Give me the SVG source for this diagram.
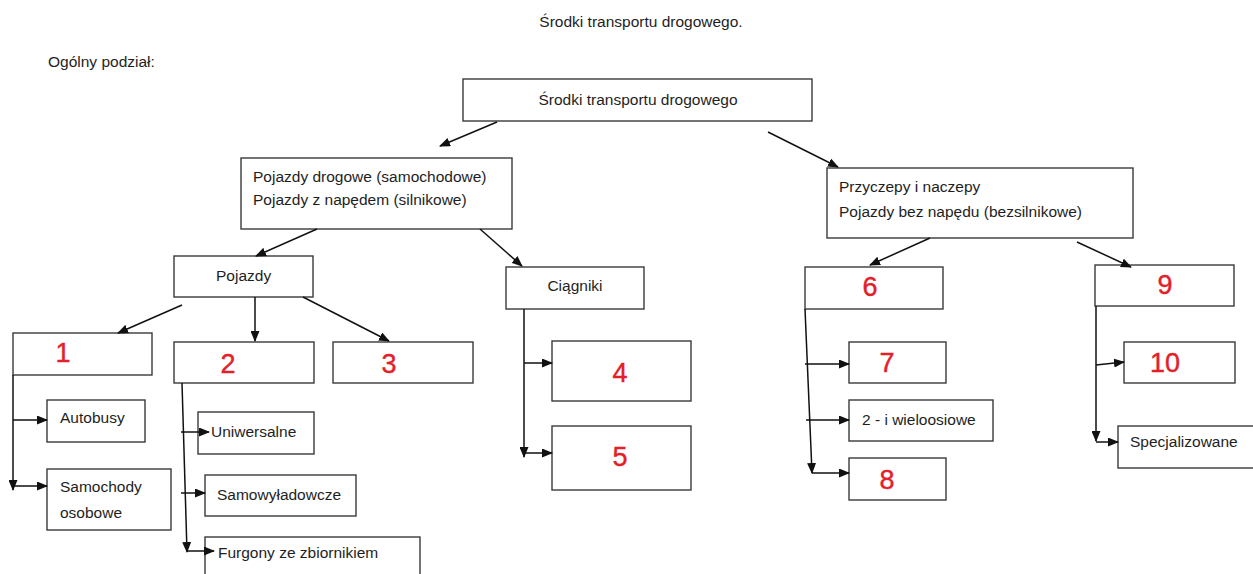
<svg xmlns="http://www.w3.org/2000/svg" width="1253" height="574" viewBox="0 0 1253 574">
<style>
  .box { fill: #fff; stroke: #3a3a3a; stroke-width: 1.4; }
  .t { font-family: "Liberation Sans", Arial, sans-serif; font-size: 15.5px; fill: #1e1e1e; }
  .tc { text-anchor: middle; }
  .d { font-family: "Liberation Sans", Arial, sans-serif; font-size: 27px; fill: #e3202a; stroke: #e3202a; stroke-width: 0.4; text-anchor: middle; dominant-baseline: central; }
  .c line { stroke: #111; stroke-width: 1.5; fill: none; marker-end: url(#ah); }
</style>
<defs>
  <marker id="ah" markerUnits="userSpaceOnUse" markerWidth="11" markerHeight="9" refX="10" refY="4.5" orient="auto">
    <path d="M0,0 L11,4.5 L0,9 Z" fill="#111"/>
  </marker>
</defs>
<rect width="1253" height="574" fill="#fff"/>

<text class="t tc" x="641" y="27">Środki transportu drogowego.</text>
<text class="t" x="48" y="67">Ogólny podział:</text>

<g id="root"><rect class="box" x="463" y="79" width="349" height="42"/><text class="t tc" x="638" y="105">Środki transportu drogowego</text></g>
<g id="pd"><rect class="box" x="241" y="158" width="271" height="71"/><text class="t" x="253" y="182">Pojazdy drogowe (samochodowe)</text><text class="t" x="253" y="205">Pojazdy z napędem (silnikowe)</text></g>
<g id="prz"><rect class="box" x="827" y="168" width="306" height="70"/><text class="t" x="839" y="192">Przyczepy i naczepy</text><text class="t" x="839" y="217">Pojazdy bez napędu (bezsilnikowe)</text></g>
<g id="pojazdy"><rect class="box" x="174" y="256" width="139" height="41"/><text class="t" x="216" y="281">Pojazdy</text></g>
<g id="ciagniki"><rect class="box" x="506" y="267" width="138" height="42"/><text class="t tc" x="575" y="291">Ciągniki</text></g>
<g id="n1"><rect class="box" x="13" y="333" width="139" height="42"/><text class="d" x="63" y="353">1</text></g>
<g id="n2"><rect class="box" x="174" y="342" width="140" height="41"/><text class="d" x="228" y="364">2</text></g>
<g id="n3"><rect class="box" x="333" y="342" width="140" height="41"/><text class="d" x="389" y="364">3</text></g>
<g id="autobusy"><rect class="box" x="47" y="400" width="98" height="42"/><text class="t" x="60" y="423">Autobusy</text></g>
<g id="samochody"><rect class="box" x="47" y="469" width="124" height="61"/><text class="t" x="60" y="492">Samochody</text><text class="t" x="60" y="518">osobowe</text></g>
<g id="uniwersalne"><rect class="box" x="198" y="412" width="116" height="42"/><text class="t" x="211" y="437">Uniwersalne</text></g>
<g id="samowyladowcze"><rect class="box" x="205" y="475" width="151" height="41"/><text class="t" x="217" y="500">Samowyładowcze</text></g>
<g id="furgony"><rect class="box" x="205" y="537" width="215" height="50"/><text class="t" x="218" y="558">Furgony ze zbiornikiem</text></g>
<g id="n4"><rect class="box" x="552" y="341" width="139" height="60"/><text class="d" x="620" y="373">4</text></g>
<g id="n5"><rect class="box" x="552" y="426" width="139" height="64"/><text class="d" x="620" y="457">5</text></g>
<g id="n6"><rect class="box" x="805" y="267" width="138" height="42"/><text class="d" x="870" y="287">6</text></g>
<g id="n9"><rect class="box" x="1095" y="265" width="139" height="41"/><text class="d" x="1165" y="285">9</text></g>
<g id="n7"><rect class="box" x="849" y="342" width="97" height="41"/><text class="d" x="887" y="363">7</text></g>
<g id="wieloosiowe"><rect class="box" x="849" y="400" width="144" height="41"/><text class="t" x="862" y="425">2 - i wieloosiowe</text></g>
<g id="n8"><rect class="box" x="849" y="458" width="97" height="42"/><text class="d" x="887" y="480">8</text></g>
<g id="n10"><rect class="box" x="1124" y="342" width="111" height="41"/><text class="d" x="1165" y="363">10</text></g>
<g id="specjalizowane"><rect class="box" x="1118" y="426" width="140" height="42"/><text class="t" x="1130" y="447">Specjalizowane</text></g>

<g id="connectors" class="c">
  <line x1="497" y1="122" x2="440" y2="146"/>
  <line x1="768" y1="132" x2="838" y2="167"/>
  <line x1="317" y1="229" x2="256" y2="256"/>
  <line x1="480" y1="229" x2="522" y2="266"/>
  <line x1="182" y1="305" x2="118" y2="333"/>
  <line x1="255" y1="297" x2="255" y2="341"/>
  <line x1="303" y1="297" x2="389" y2="341"/>
  <line x1="13" y1="375" x2="13" y2="490"/>
  <line x1="13" y1="420" x2="47" y2="420"/>
  <line x1="13" y1="486" x2="47" y2="486"/>
  <line x1="182" y1="383" x2="187" y2="552"/>
  <line x1="181" y1="432" x2="209" y2="432"/>
  <line x1="181" y1="493" x2="205" y2="493"/>
  <line x1="187" y1="551" x2="214" y2="551"/>
  <line x1="524" y1="309" x2="524" y2="457"/>
  <line x1="524" y1="363" x2="552" y2="363"/>
  <line x1="524" y1="453" x2="552" y2="453"/>
  <line x1="805" y1="309" x2="812" y2="473"/>
  <line x1="805" y1="364" x2="849" y2="364"/>
  <line x1="806" y1="420" x2="849" y2="420"/>
  <line x1="812" y1="473" x2="849" y2="473"/>
  <line x1="930" y1="238" x2="870" y2="265"/>
  <line x1="1077" y1="242" x2="1131" y2="267"/>
  <line x1="1096" y1="306" x2="1096" y2="441"/>
  <line x1="1096" y1="365" x2="1124" y2="362"/>
  <line x1="1096" y1="442" x2="1118" y2="442"/>
</g>
</svg>
